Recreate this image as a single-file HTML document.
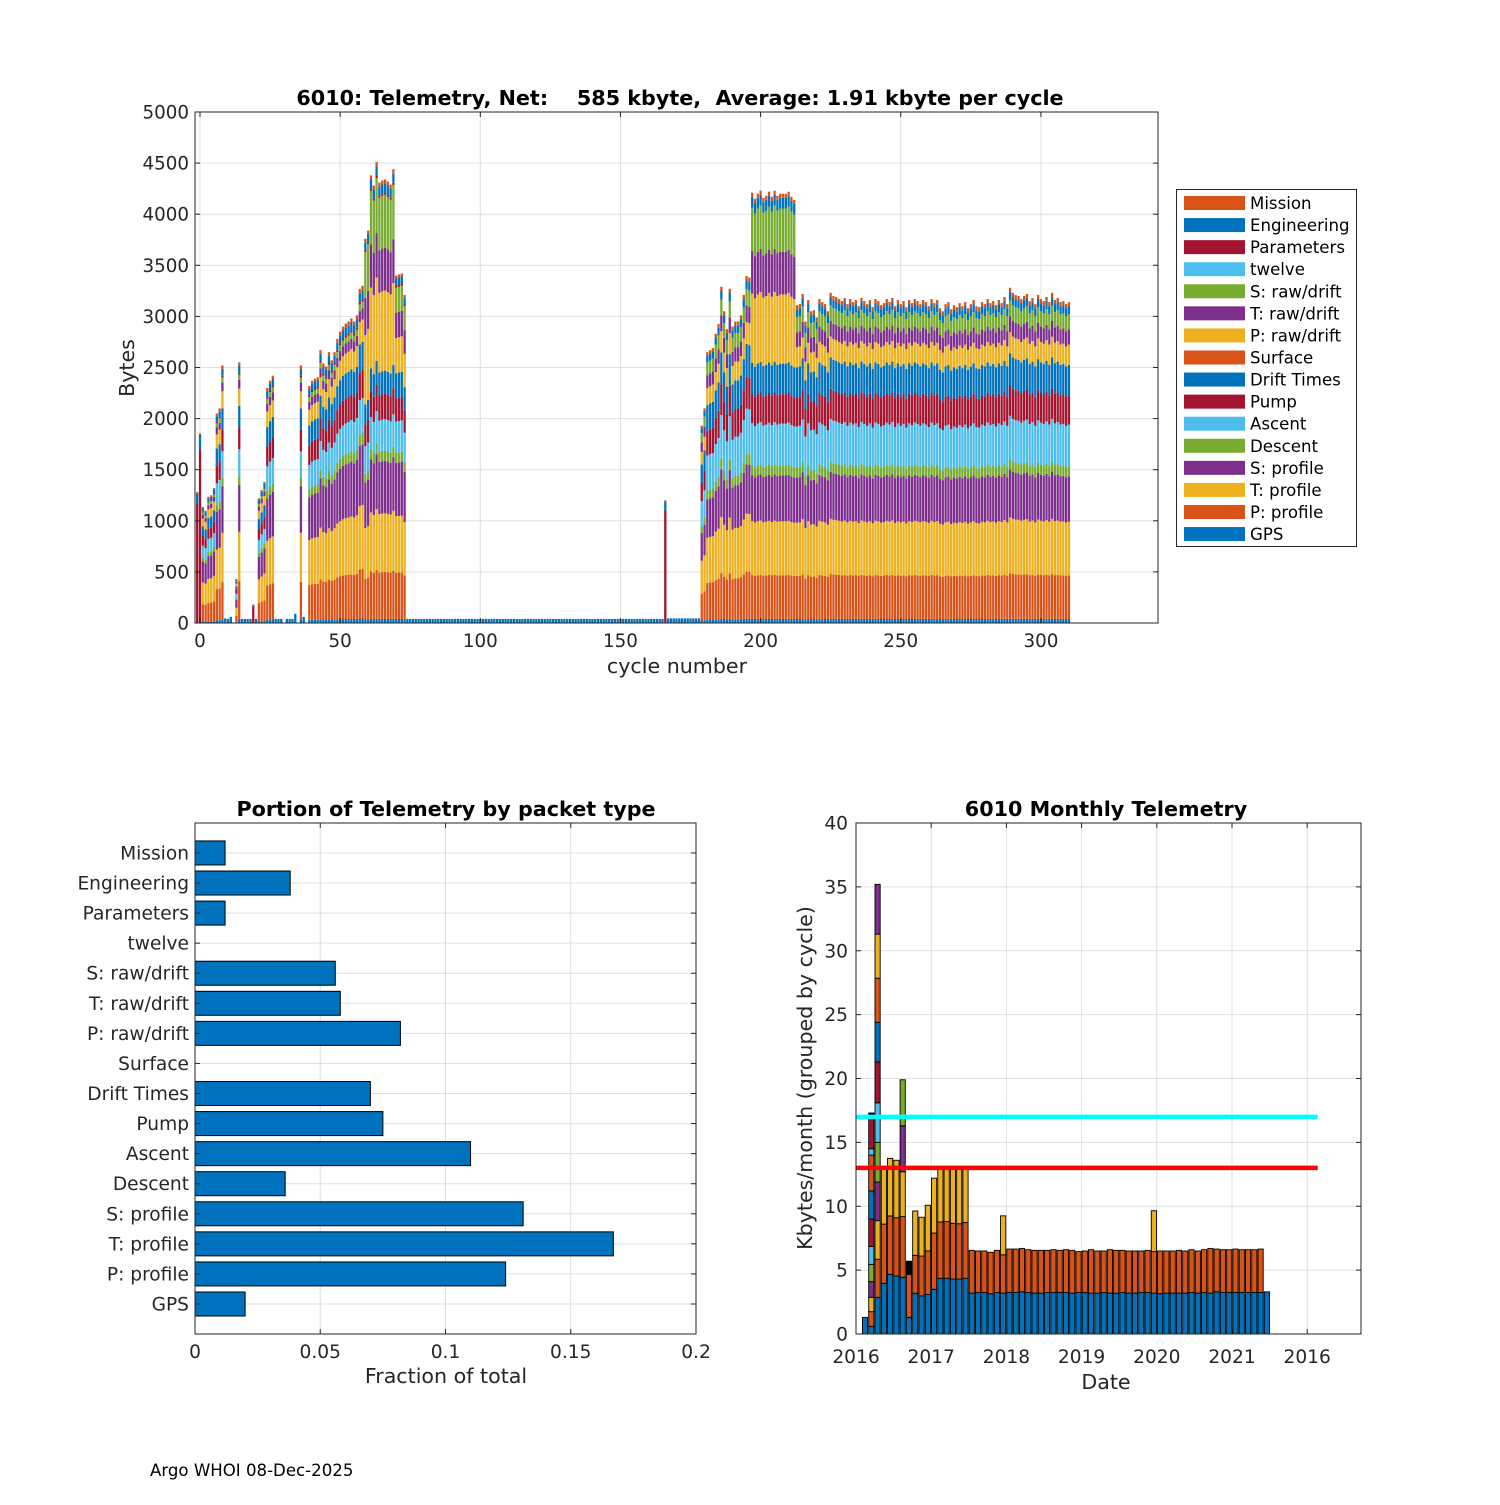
<!DOCTYPE html>
<html><head><meta charset="utf-8"><style>
html,body{margin:0;padding:0;background:#fff;}
svg text{font-family:"DejaVu Sans","Liberation Sans",sans-serif;}
</style></head><body>
<svg id="fig" width="1500" height="1500" viewBox="0 0 1500 1500" xmlns="http://www.w3.org/2000/svg">
<rect x="0" y="0" width="1500" height="1500" fill="#fff"/>
</svg>
<script>
// ---------- TOP CHART DATA ----------
const seriesNames = ["GPS","P: profile","T: profile","S: profile","Descent","Ascent","Pump","Drift Times","Surface","P: raw/drift","T: raw/drift","S: raw/drift","twelve","Parameters","Engineering","Mission"];
const seriesColors = ["#0072BD","#D95319","#EDB120","#7E2F8E","#77AC30","#4DBEEE","#A2142F","#0072BD","#D95319","#EDB120","#7E2F8E","#77AC30","#4DBEEE","#A2142F","#0072BD","#D95319"];
const tplS = [40,430,530,450,100,410,290,300,0,200,150,150,0,0,80,40];
const tplW = [40,430,530,450,100,410,290,300,0,680,420,425,0,0,105,40];
const tplE = [40,440,570,540,100,310,250,250,0,200,100,60,0,20,80,40];
const tplH = [40,460,575,515,100,310,250,225,0,785,420,520,0,20,90,40];
const tplT = [40,460,560,530,100,310,230,250,0,350,250,250,0,20,70,30];
const tplP = [0,0,0,0,0,0,1700,100,0,0,0,0,0,0,40,15];
const tplG = [40,0,0,0,0,0,0,0,0,0,0,0,0,0,0,0];
const earlyCycles = [-1,0,1,2,3,4,5,6,7,8,9,10,11,13,14,15,16,17,18,19,20,21,22,23,24,25,26,27,28,29,31,32,33,34,36,37,39,40,41,42,43,44,45,46,47,48,49,50,51,52,53,54,55,56,57,58,59,60,61,62,63,64,65,66,67,68,69,70,71,72,73,166];
const earlyTotals = [1280,1855,1135,1100,1235,1250,1320,2050,2100,2520,45,40,60,430,2550,40,40,40,40,180,40,1220,1300,1380,2300,2370,2420,40,40,40,40,40,40,90,2520,60,2320,2370,2390,2405,2670,2540,2510,2650,2570,2650,2780,2850,2900,2930,2950,2980,2950,3010,3270,3300,3760,3840,4380,4280,4510,4310,4330,4340,4320,4290,4440,3400,3410,3420,3210,1200];
const earlyTypes = ["P","P","E","E","E","E","E","E","E","E","G","G","G","E","E","G","G","G","G","P","G","E","E","E","E","E","E","G","G","G","G","G","G","G","E","G","E","E","E","E","E","E","E","E","E","E","E","E","E","E","E","E","E","E","E","E","H","H","H","H","H","H","H","H","H","H","H","T","T","T","T","P"];
const flatStarts = [74,167];
const flatEnds = [165,178];
const flatBytes = [40,45];
const lateStart = 179;
const lateTotals = [1930,2100,2650,2670,2690,2830,2925,3290,3050,2875,3270,2900,2950,2950,3010,3210,3395,3380,
4210,4150,4200,4230,4160,4180,4220,4170,4230,4180,4200,4200,4200,4220,4170,4140,
3110,3120,3220,2950,3160,3050,3060,2990,3170,3140,
3120,3050,3230,3200,3190,3170,3150,3180,3120,3170,
3140,3160,3100,3180,3150,3120,3160,3090,3170,3150,
3110,3130,3170,3140,3180,3100,3160,3120,3150,3090,
3160,3130,3170,3150,3120,3160,3140,3100,3170,3130,
3160,3080,3050,3120,3140,3070,3110,3090,3130,3100,
3140,3080,3120,3160,3100,3090,3140,3120,3170,3130,
3150,3110,3160,3130,3190,3120,3280,3230,3210,3200,
3170,3200,3220,3150,3180,3120,3210,3170,3150,3190,
3140,3230,3160,3180,3140,3150,3120,3140];
const highStart = 197, highEnd = 212;
const topXTicks = [0,50,100,150,200,250,300];
const topYTicks = [0,500,1000,1500,2000,2500,3000,3500,4000,4500,5000];

// ---------- BOTTOM-LEFT DATA ----------
const packetNames = ["GPS","P: profile","T: profile","S: profile","Descent","Ascent","Pump","Drift Times","Surface","P: raw/drift","T: raw/drift","S: raw/drift","twelve","Parameters","Engineering","Mission"];
const packetFractions = [0.020,0.124,0.167,0.131,0.036,0.110,0.075,0.070,0,0.082,0.058,0.056,0,0.012,0.038,0.012];
const fracTicks = [0,0.05,0.1,0.15,0.2];
const fracTickLabels = ["0","0.05","0.1","0.15","0.2"];

// ---------- BOTTOM-RIGHT DATA ----------
const mGPS = [1.3,0.6,2.87,3.97,4.67,4.54,4.44,1.3,3.19,2.98,3.1,3.5,4.36,4.36,4.3,4.3,4.36,
3.2,3.25,3.25,3.15,3.25,3.2,3.25,3.25,3.3,3.25,3.2,3.2,3.25,3.25,3.25,3.25,3.2,3.25,3.25,3.2,3.2,3.25,3.2,3.2,3.25,3.2,3.2,3.25,3.25,3.2,3.15,3.2,3.2,3.2,3.2,3.25,3.2,3.25,3.2,3.3,3.25,3.25,3.25,3.25,3.25,3.25,3.25,3.3];
const mPprof = [0,1.15,2.98,4.63,4.57,4.56,4.75,3.37,2.97,3.12,3.4,4.4,4.41,4.44,4.37,4.33,4.37,
3.35,3.25,3.25,3.25,3.3,3.0,3.4,3.4,3.4,3.35,3.35,3.35,3.3,3.35,3.3,3.35,3.35,3.2,3.25,3.4,3.3,3.25,3.4,3.35,3.3,3.3,3.3,3.25,3.3,3.25,3.35,3.3,3.3,3.35,3.3,3.35,3.3,3.35,3.5,3.35,3.35,3.35,3.4,3.35,3.35,3.35,3.4,0];
const mTprof = [0,1.12,3.02,4.3,4.51,4.5,3.51,0,3.47,3.04,3.58,4.3,4.33,4.3,4.43,4.47,4.37,
0,0,0,0,0,3.05,0,0,0,0,0,0,0,0,0,0,0,0,0,0,0,0,0,0,0,0,0,0,0,3.2,0,0,0,0,0,0,0,0,0,0,0,0,0,0,0,0,0,0];
const mSprof = [0,1.23,3.03,0,0,0,3.6];
const mDescent = [0,1.35,3.1,0,0,0,3.6];
const mAscent = [0,1.4,3.1];
const mPump = [0,2.15,3.2];
const mDrift = [0,2.2,3.1];
const mSurface = [0,2.8,3.45];
const mPraw = [0,0,3.45];
const mTraw = [0,0,3.9];
const mTwelve = [0,0.5];
const mParams = [0,2.5];
const mOther = [0,0.3,0,0,0,0,0,1.03];
const monthStart = 2016.12, monthStep = 0.0835;
const limitCyan = 17, limitRed = 13;
const dateTicks = [2016,2017,2018,2019,2020,2021,2022];
const dateTickLabels = ["2016","2017","2018","2019","2020","2021","2016"];
const kbTicks = [0,5,10,15,20,25,30,35,40];

// ---------- HELPERS ----------
const NS = "http://www.w3.org/2000/svg";
const svg = document.getElementById("fig");
function mk(tag, attrs, parent){
  const e = document.createElementNS(NS, tag);
  for (const k in attrs) e.setAttribute(k, attrs[k]);
  (parent || svg).appendChild(e);
  return e;
}
function txt(s, attrs, parent){ const t = mk("text", attrs, parent); t.textContent = s; return t; }
const AX = "#262626", GRID = "#dfdfdf";
const TICKF = "18.3", TITLEF = "20.7", LABF = "20.6";

// ================= TOP CHART =================
const T = {x0:195, x1:1158, y0:112, y1:623};
const tX = c => 200 + c*2.803;
const tY = b => 623 - b*0.1022;
const gTop = mk("g", {});


topYTicks.forEach(v => { const l = mk("line",{x1:T.x0,x2:T.x1,y1:tY(v),y2:tY(v),stroke:GRID,"stroke-width":1},gTop);
    });
topXTicks.forEach(v => { const l = mk("line",{x1:tX(v),x2:tX(v),y1:T.y0,y2:T.y1,stroke:GRID,"stroke-width":1},gTop);
    });
const gBars = mk("g", {}, gTop);


const tpls = {S:tplS,W:tplW,E:tplE,H:tplH,T:tplT,P:tplP,G:tplG};
function drawTopBar(c, total, tp){
  const sum = tp.reduce((a,b)=>a+b,0), sc = total/sum;
  let base = 0;
  const w = 2.803*0.82;
  tp.forEach((v,i)=>{
    if (v<=0) return;
    const val = v*sc;
    const r = mk("rect",{x:tX(c)-w/2,y:tY(base+val),width:w,height:val*0.1022,fill:seriesColors[i]},gBars);
    
    
    base += val;
  });
}
earlyCycles.forEach((c,i)=>drawTopBar(c, earlyTotals[i], tpls[earlyTypes[i]]));
flatStarts.forEach((s,k)=>{ for(let c=s;c<=flatEnds[k];c++) drawTopBar(c, flatBytes[k], tplG); });
lateTotals.forEach((t,i)=>{ const c = lateStart+i; drawTopBar(c, t, (c>=highStart&&c<=highEnd)?tplW:tplS); });
const tb = mk("rect",{x:T.x0,y:T.y0,width:T.x1-T.x0,height:T.y1-T.y0,fill:"none",stroke:AX,"stroke-width":1},gTop);
 
topYTicks.forEach(v=>{
  mk("line",{x1:T.x0,x2:T.x0+5,y1:tY(v),y2:tY(v),stroke:AX},gTop);
  mk("line",{x1:T.x1,x2:T.x1-5,y1:tY(v),y2:tY(v),stroke:AX},gTop);
  const t = txt(String(v),{x:T.x0-6,y:tY(v)+6.5,"text-anchor":"end","font-size":TICKF,fill:AX},gTop);
   
});
topXTicks.forEach(v=>{
  mk("line",{x1:tX(v),x2:tX(v),y1:T.y1,y2:T.y1-5,stroke:AX},gTop);
  mk("line",{x1:tX(v),x2:tX(v),y1:T.y0,y2:T.y0+5,stroke:AX},gTop);
  const t = txt(String(v),{x:tX(v),y:647,"text-anchor":"middle","font-size":TICKF,fill:AX},gTop);
   
});
let e;
e = txt("6010: Telemetry, Net:    585 kbyte,  Average: 1.91 kbyte per cycle",{x:680,y:105,"text-anchor":"middle","font-size":TITLEF,"font-weight":"bold",fill:"#000"},gTop);
 
e.style.whiteSpace = "pre";
e = txt("cycle number",{x:677,y:673,"text-anchor":"middle","font-size":LABF,fill:AX},gTop);
 
e = txt("Bytes",{x:0,y:0,"text-anchor":"middle","font-size":LABF,fill:AX,transform:"translate(134,368) rotate(-90)"},gTop);
 
const gLeg = mk("g",{},gTop);
 
mk("rect",{x:1176.5,y:189.5,width:180,height:357,fill:"#fff",stroke:AX,"stroke-width":1},gLeg);
for (let k=0;k<16;k++){
  const si = 15-k, cy = 203 + k*22.07;
  const sw = mk("rect",{x:1184,y:cy-7,width:61,height:14,fill:seriesColors[si]},gLeg);
   
  const lt = txt(seriesNames[si],{x:1250,y:cy+6,"font-size":"16.6",fill:"#000"},gLeg);
   
}

// ================= BOTTOM-LEFT =================
const L = {x0:195, x1:696, y0:823, y1:1334};
const lX = v => 195 + v/0.2*501;
const lY = i => 1304 - i*30.07;
const gL = mk("g",{});
 
fracTicks.forEach(v=>mk("line",{x1:lX(v),x2:lX(v),y1:L.y0,y2:L.y1,stroke:GRID},gL));
packetNames.forEach((n,i)=>mk("line",{x1:L.x0,x2:L.x1,y1:lY(i),y2:lY(i),stroke:GRID},gL));
packetFractions.forEach((v,i)=>{
  if (v<=0) return;
  const r = mk("rect",{x:L.x0,y:lY(i)-12,width:lX(v)-L.x0,height:24,fill:"#0072BD",stroke:"#000","stroke-width":1},gL);
  
  
});
mk("rect",{x:L.x0,y:L.y0,width:L.x1-L.x0,height:L.y1-L.y0,fill:"none",stroke:AX},gL);
packetNames.forEach((n,i)=>{
  mk("line",{x1:L.x0,x2:L.x0+5,y1:lY(i),y2:lY(i),stroke:AX},gL);
  mk("line",{x1:L.x1,x2:L.x1-5,y1:lY(i),y2:lY(i),stroke:AX},gL);
  const t = txt(n,{x:L.x0-6,y:lY(i)+6.5,"text-anchor":"end","font-size":"18.6",fill:AX},gL);
   
});
fracTicks.forEach((v,i)=>{
  mk("line",{x1:lX(v),x2:lX(v),y1:L.y1,y2:L.y1-5,stroke:AX},gL);
  mk("line",{x1:lX(v),x2:lX(v),y1:L.y0,y2:L.y0+5,stroke:AX},gL);
  const t = txt(fracTickLabels[i],{x:lX(v),y:1358,"text-anchor":"middle","font-size":"18.6",fill:AX},gL);
   
});
e = txt("Portion of Telemetry by packet type",{x:446,y:816,"text-anchor":"middle","font-size":TITLEF,"font-weight":"bold",fill:"#000"},gL);
 
e = txt("Fraction of total",{x:446,y:1383,"text-anchor":"middle","font-size":LABF,fill:AX},gL);
 

// ================= BOTTOM-RIGHT =================
const R = {x0:856, x1:1361, y0:823, y1:1334};
const rX = yr => 856 + (yr-2016)*75.2;
const rY = v => 1334 - v*12.775;
const gR = mk("g",{});
 
dateTicks.forEach(v=>mk("line",{x1:rX(v),x2:rX(v),y1:R.y0,y2:R.y1,stroke:GRID},gR));
kbTicks.forEach(v=>mk("line",{x1:R.x0,x2:R.x1,y1:rY(v),y2:rY(v),stroke:GRID},gR));
const mSeries = [mGPS,mPprof,mTprof,mSprof,mDescent,mAscent,mPump,mDrift,mSurface,mPraw,mTraw,mTwelve,mParams,mOther];
const mColors = ["#0072BD","#D95319","#EDB120","#7E2F8E","#77AC30","#4DBEEE","#A2142F","#0072BD","#D95319","#EDB120","#7E2F8E","#4DBEEE","#A2142F","#000000"];
mGPS.forEach((g,i)=>{
  const xc = rX(monthStart + i*monthStep);
  let base = 0;
  mSeries.forEach((s,k)=>{
    const v = s[i]||0;
    if (v<=0) return;
    const r = mk("rect",{x:xc-2.6,y:rY(base+v),width:5.2,height:v*12.775,fill:mColors[k],stroke:"#000","stroke-width":0.9},gR);
    
    
    base += v;
  });
});
e = mk("line",{x1:rX(2016),x2:rX(2022.14),y1:rY(limitCyan),y2:rY(limitCyan),stroke:"#00FFFF","stroke-width":4.5},gR);
 
e = mk("line",{x1:rX(2016),x2:rX(2022.14),y1:rY(limitRed),y2:rY(limitRed),stroke:"#FF0000","stroke-width":4.5},gR);
 
mk("rect",{x:R.x0,y:R.y0,width:R.x1-R.x0,height:R.y1-R.y0,fill:"none",stroke:AX},gR);
kbTicks.forEach(v=>{
  mk("line",{x1:R.x0,x2:R.x0+5,y1:rY(v),y2:rY(v),stroke:AX},gR);
  mk("line",{x1:R.x1,x2:R.x1-5,y1:rY(v),y2:rY(v),stroke:AX},gR);
  const t = txt(String(v),{x:R.x0-8,y:rY(v)+6.5,"text-anchor":"end","font-size":"18.6",fill:AX},gR);
   
});
dateTicks.forEach((v,i)=>{
  mk("line",{x1:rX(v),x2:rX(v),y1:R.y1,y2:R.y1-5,stroke:AX},gR);
  mk("line",{x1:rX(v),x2:rX(v),y1:R.y0,y2:R.y0+5,stroke:AX},gR);
  const t = txt(dateTickLabels[i],{x:rX(v),y:1363,"text-anchor":"middle","font-size":"18.6",fill:AX},gR);
   
});
e = txt("6010 Monthly Telemetry",{x:1106,y:816,"text-anchor":"middle","font-size":TITLEF,"font-weight":"bold",fill:"#000"},gR);
 
e = txt("Date",{x:1106,y:1389,"text-anchor":"middle","font-size":LABF,fill:AX},gR);
 
e = txt("Kbytes/month (grouped by cycle)",{x:0,y:0,"text-anchor":"middle","font-size":LABF,fill:AX,transform:"translate(812,1078) rotate(-90)"},gR);
 

e = txt("Argo WHOI 08-Dec-2025",{x:150,y:1476,"font-size":"16.6",fill:"#000"});
 
</script>
</body></html>
